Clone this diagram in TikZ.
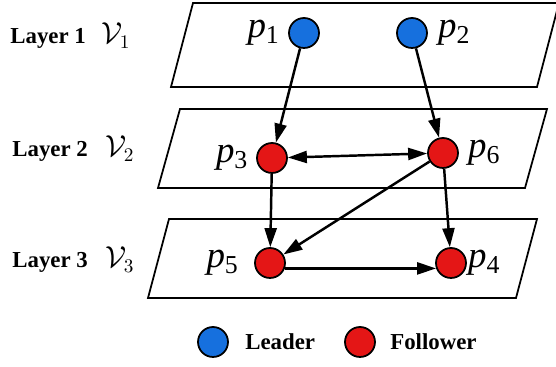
\documentclass[tikz,border=0pt]{standalone}
\usepackage{amsmath,amssymb}
\usepackage{fontspec}
\setmainfont{Liberation Serif}
\usetikzlibrary{arrows.meta,calc}

\definecolor{leaderblue}{RGB}{22,112,222}
\definecolor{followerred}{RGB}{228,22,22}

\newcommand{\pname}[1]{\textit{p}\textsubscript{#1}}

\begin{document}
\begin{tikzpicture}[x=0.02cm,y=-0.02cm,
    agent/.style={circle,draw,line width=1pt,minimum size=0.6cm,inner sep=0pt},
    leader/.style={agent,fill=leaderblue},
    follower/.style={agent,fill=followerred},
    plane/.style={draw,line width=1pt},
    link/.style={line width=1.4pt,-{Triangle[length=0.38cm,width=0.24cm]}},
    tag/.style={font=\fontsize{21}{24}\selectfont,inner sep=0pt},
    layertxt/.style={font=\fontsize{13}{16}\selectfont\bfseries,inner sep=0pt,anchor=base west},
    layerset/.style={font=\fontsize{16}{19}\selectfont,inner sep=0pt,anchor=base west}]
    \useasboundingbox (0,0) rectangle (556,367);

    % the three layers
    \draw[plane] (193,3) -- (559,3) -- (537,87) -- (171,87) -- cycle;
    \draw[plane] (180,109) -- (547,109) -- (525,188) -- (158,188) -- cycle;
    \draw[plane] (169,219) -- (537,219) -- (516,298) -- (148,298) -- cycle;

    \node[layertxt] (L1) at (10,44) {Layer 1};
    \node[layertxt] (L2) at (12,157) {Layer 2};
    \node[layertxt] (L3) at (12,268) {Layer 3};
    \node[layerset] (V1) at (101,44) {$\mathcal{V}_1$};
    \node[layerset] (V2) at (105,157) {$\mathcal{V}_2$};
    \node[layerset] (V3) at (105,268) {$\mathcal{V}_3$};

    \coordinate (p1) at (304,33);
    \coordinate (p2) at (412,33);
    \coordinate (p3) at (272,158);
    \coordinate (p6) at (443,153);
    \coordinate (p5) at (270,263);
    \coordinate (p4) at (451,263);

    \node (P1) [leader,label={[tag,label distance=0.16cm]180:\pname{1}}] at (p1) {};
    \node (P2) [leader,label={[tag,label distance=0.2cm]0:\pname{2}}] at (p2) {};
    \node (P3) [follower,label={[tag,label distance=0.15cm]180:\pname{3}}] at (p3) {};
    \node (P6) [follower,label={[tag,label distance=0.18cm]0:\pname{6}}] at (p6) {};
    \node (P5) [follower,label={[tag,label distance=0.3cm]180:\pname{5}}] at (p5) {};
    \node (P4) [follower,label={[tag,label distance=0.02cm]0:\pname{4}}] at (p4) {};

    \draw[link] (P1) -- (P3);
    \draw[link] (P2) -- (P6);
    \draw[link,{Triangle[length=0.38cm,width=0.24cm]}-{Triangle[length=0.38cm,width=0.24cm]}] (P3) -- (P6);
    \draw[link] (P3) -- (P5);
    \draw[link] (P6) -- (P5);
    \draw[link] (P6) -- (P4);
    \draw[link] (P5.-20) -- (P4.200);

    % legend
    \node (LB) [leader] at (213,342) {};
    \node (LR) [follower] at (360,342) {};
    \node[font=\fontsize{13}{16}\selectfont\bfseries,anchor=west,inner sep=0pt] (LBt) at (245,342) {Leader};
    \node[font=\fontsize{13}{16}\selectfont\bfseries,anchor=west,inner sep=0pt] (LRt) at (390,342) {Follower};
\end{tikzpicture}
\end{document}
